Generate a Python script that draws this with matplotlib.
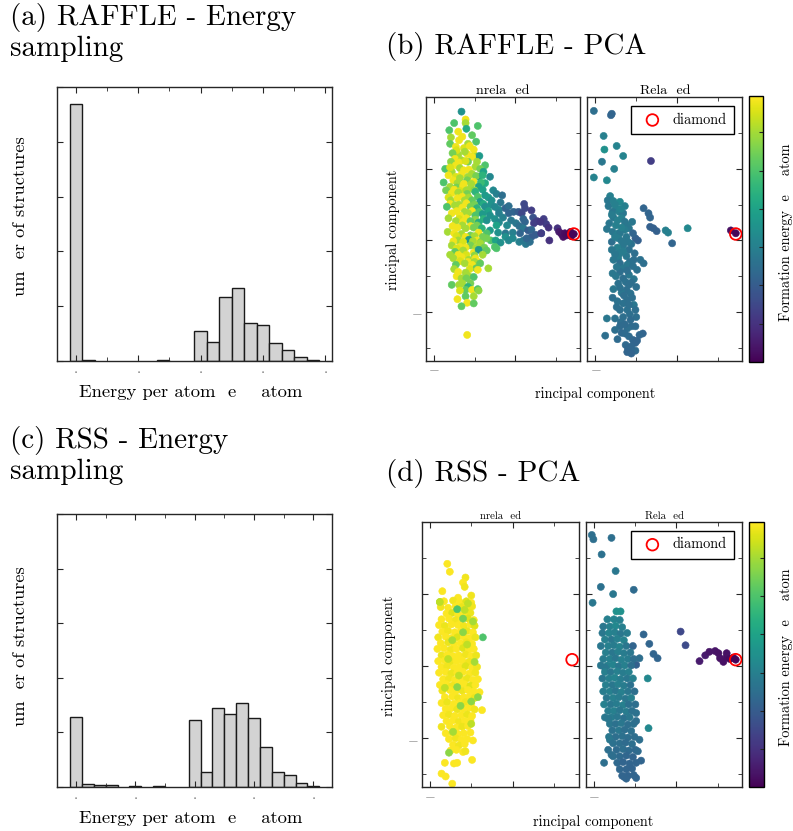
import matplotlib
matplotlib.use("Agg")
import matplotlib.pyplot as plt
import numpy as np
from matplotlib.colors import Normalize

plt.rcParams["font.family"] = "serif"
plt.rcParams["font.serif"] = ["cmr10"]
plt.rcParams["mathtext.fontset"] = "cm"
plt.rcParams["axes.formatter.use_mathtext"] = True

# ---------------------------------------------------------------- data
# energy histograms (bin centre in eV/atom, number of structures)
raffle_energy = [0.0, 0.1, 0.7, 1.0, 1.1, 1.2, 1.3, 1.4, 1.5, 1.6, 1.7, 1.8, 1.9]
raffle_counts = [469, 2, 1, 54, 35, 116, 134, 70, 66, 32, 20, 7, 2]

rss_energy = [0.0, 0.1, 0.2, 0.3, 0.5, 0.7, 1.0, 1.1, 1.2, 1.3, 1.4, 1.5, 1.6,
              1.7, 1.8, 1.9, 2.0]
rss_counts = [129, 6, 4, 4, 1, 2, 123, 27, 145, 134, 154, 127, 73, 27, 22, 8, 2]

# PCA points: (principal component 1, principal component 2, formation energy)
raffle_unrelaxed = [
    (-6.6, 18.0, 0.70), (-7.5, 16.4, 1.00), (-6.1, 16.9, 1.36), (-6.1, 16.4, 1.20), (-6.0, 15.6, 0.85),
    (-8.1, 15.4, 1.00), (-4.6, 16.0, 1.00), (-7.0, 15.2, 1.36), (-7.9, 14.4, 1.20), (-6.5, 14.5, 1.36),
    (-5.3, 14.7, 1.05), (-8.0, 13.5, 1.05), (-6.9, 14.0, 1.36), (-5.8, 13.5, 1.20), (-4.8, 13.8, 1.00),
    (-7.3, 13.1, 1.36), (-6.3, 12.9, 1.31), (-5.6, 13.2, 1.36), (-7.0, 12.0, 1.20), (-5.9, 12.1, 1.36),
    (-5.0, 11.9, 1.20), (-5.1, 12.7, 1.36), (-7.2, 12.6, 1.31), (-7.7, 12.2, 1.10), (-6.2, 12.4, 1.20),
    (-4.4, 11.8, 0.75), (-5.3, 11.7, 1.36), (-7.4, 11.4, 1.36), (-6.6, 11.2, 1.20), (-5.8, 11.0, 1.10),
    (-7.9, 11.0, 1.15), (-6.9, 10.9, 1.36), (-6.1, 11.1, 1.31), (-4.7, 11.0, 1.20), (-3.7, 10.5, 1.00),
    (-8.6, 10.0, 1.00), (-7.3, 10.5, 1.36), (-4.9, 10.3, 1.20), (-4.3, 10.0, 1.10), (-7.8, 9.6, 1.20),
    (-8.0, 10.2, 1.31), (-6.8, 10.1, 1.20), (-5.7, 9.9, 1.36), (-6.3, 9.8, 1.36), (-5.3, 9.3, 1.20),
    (-3.9, 9.6, 0.80), (-4.5, 8.9, 0.70), (-3.1, 8.9, 0.65), (-8.2, 9.1, 1.36), (-7.3, 8.9, 1.31),
    (-6.6, 9.2, 1.36), (-5.8, 8.9, 1.20), (-4.8, 9.0, 1.10), (-4.0, 9.1, 0.90), (-8.8, 8.1, 1.00),
    (-7.6, 8.4, 1.36), (-6.8, 8.7, 1.20), (-5.9, 8.4, 1.10), (-5.1, 8.2, 1.36), (-3.7, 8.0, 0.85),
    (-7.1, 8.0, 1.20), (-6.3, 7.9, 1.36), (-5.4, 7.9, 1.20), (-4.2, 8.1, 0.95), (-8.0, 7.5, 1.20),
    (-7.2, 7.4, 1.10), (-6.4, 7.6, 1.36), (-5.5, 7.3, 1.20), (-4.5, 7.5, 0.80), (-2.7, 7.0, 0.65),
    (-8.5, 7.0, 1.10), (-7.5, 7.1, 1.36), (-6.8, 6.9, 1.31), (-6.0, 7.0, 1.20), (-5.0, 7.0, 1.15),
    (-4.0, 7.1, 0.80), (-7.8, 6.6, 1.36), (-7.0, 6.7, 1.20), (-5.9, 6.5, 1.10), (-4.9, 6.8, 0.90),
    (-3.7, 6.3, 0.75), (-2.3, 6.5, 0.60), (-1.6, 6.3, 0.50), (-8.2, 6.0, 1.31), (-6.5, 6.1, 1.36),
    (-5.7, 6.0, 1.20), (-4.6, 6.1, 1.00), (-3.3, 6.0, 0.75), (-7.9, 5.6, 1.20), (-7.1, 5.9, 1.36),
    (-6.2, 5.6, 1.20), (-5.3, 5.6, 1.05), (-4.3, 5.4, 0.75), (-2.9, 5.6, 0.70), (-1.8, 5.3, 0.55),
    (-8.0, 5.1, 1.36), (-6.9, 5.0, 1.20), (-6.0, 5.2, 1.36), (-5.0, 5.0, 1.10), (-3.9, 5.1, 0.85),
    (-3.0, 5.0, 0.70), (-8.4, 4.7, 1.00), (-7.4, 4.9, 1.20), (-6.5, 4.6, 1.36), (-5.5, 4.7, 1.10),
    (-4.7, 4.5, 0.90), (-3.7, 4.7, 0.70), (-2.5, 4.7, 0.65), (-2.0, 4.3, 0.65), (-1.2, 4.5, 0.45),
    (-0.8, 4.8, 0.50), (-0.2, 4.0, 0.45), (1.1, 5.1, 0.30), (1.2, 4.5, 0.30), (-7.2, 4.1, 1.36),
    (-6.2, 4.0, 1.20), (-5.3, 4.1, 1.36), (-4.4, 4.0, 1.00), (-3.3, 4.1, 0.80), (-7.8, 3.8, 1.36),
    (-6.8, 3.5, 1.36), (-5.8, 3.8, 1.20), (-4.9, 3.5, 1.00), (-4.0, 3.7, 0.75), (-3.1, 3.5, 0.70),
    (-2.0, 3.8, 0.60), (-0.8, 3.8, 0.45), (0.4, 4.0, 0.40), (0.8, 3.8, 0.30), (2.0, 4.2, 0.25),
    (-8.2, 3.1, 1.20), (-6.9, 3.0, 1.31), (-6.0, 3.1, 1.36), (-4.9, 2.9, 1.15), (-3.9, 3.0, 0.90),
    (-2.5, 3.0, 0.70), (-1.5, 3.2, 0.60), (-0.5, 2.8, 0.55), (1.0, 3.0, 0.45), (2.2, 3.2, 0.35),
    (3.5, 3.0, 0.25), (3.8, 2.3, 0.25), (-7.3, 2.7, 1.20), (-6.4, 2.6, 1.36), (-5.5, 2.7, 1.05),
    (-4.5, 2.5, 0.85), (-3.5, 2.8, 0.70), (-2.0, 2.5, 0.65), (-1.0, 2.1, 0.65), (0.1, 2.4, 0.55),
    (0.5, 2.0, 0.50), (1.2, 2.6, 0.45), (2.3, 2.4, 0.25), (2.7, 2.7, 0.25), (3.1, 2.6, 0.22),
    (-7.7, 2.0, 1.36), (-6.5, 2.1, 1.20), (-5.5, 2.0, 1.36), (-4.7, 2.1, 1.10), (-7.1, 1.8, 1.36),
    (-6.1, 1.7, 1.20), (-5.1, 1.8, 1.10), (-4.1, 1.7, 0.90), (-3.1, 1.4, 0.75), (-2.3, 2.1, 0.80),
    (1.0, 1.7, 0.55), (1.6, 1.4, 0.40), (2.0, 1.5, 0.45), (4.1, 1.8, 0.20), (5.2, 1.7, 0.20),
    (-8.3, 1.2, 1.20), (-7.5, 1.0, 1.36), (-6.6, 0.9, 1.20), (-5.5, 0.7, 1.10), (-4.5, 1.1, 1.36),
    (-3.5, 1.0, 1.00), (-7.2, 0.6, 1.31), (-6.1, 0.5, 1.36), (-5.0, 0.6, 1.20), (-4.0, 0.5, 1.10),
    (-2.1, 1.1, 0.70), (-1.2, 1.0, 0.55), (-0.3, 1.1, 0.60), (0.6, 1.0, 0.45), (2.5, 0.8, 0.40),
    (2.0, 0.5, 0.40), (3.2, 1.0, 0.40), (4.2, 0.0, 0.20), (-7.0, 0.0, 1.20), (-5.7, 0.1, 0.75),
    (-4.7, 0.0, 1.36), (-7.6, -0.1, 1.36), (-6.4, -0.2, 1.31), (-5.2, -0.1, 1.20), (-4.2, -0.2, 1.10),
    (-3.0, 0.0, 1.00), (-3.5, 0.3, 1.10), (-2.4, 0.0, 0.80), (-1.2, 0.5, 0.70), (-0.3, 0.3, 0.65),
    (-0.8, 0.0, 0.65), (-1.8, -0.3, 0.70), (0.5, -0.2, 0.60), (1.0, 0.0, 0.55), (1.3, -0.5, 0.55),
    (1.8, -0.2, 0.50), (1.4, 0.3, 0.45), (-7.8, -0.7, 1.20), (-6.8, -0.9, 1.36), (-5.5, -0.7, 1.10),
    (-4.3, -0.4, 1.20), (-2.5, -0.9, 1.00), (-7.2, -1.1, 1.31), (-6.1, -1.0, 1.36), (-4.8, -1.0, 1.20),
    (-3.8, -1.0, 1.10), (-7.4, -1.6, 1.05), (-6.4, -1.4, 1.20), (-5.1, -1.7, 1.36), (-4.5, -1.3, 0.75),
    (-3.5, -1.4, 1.05), (-2.3, -1.1, 1.00), (-8.0, -2.0, 1.20), (-7.0, -2.0, 1.36), (-6.0, -2.0, 1.31),
    (-5.0, -2.1, 1.15), (-4.0, -2.0, 1.20), (-7.6, -2.5, 1.20), (-6.6, -2.3, 1.36), (-5.7, -2.7, 1.20),
    (-4.9, -2.5, 1.36), (-4.5, -3.0, 1.38), (-6.8, -2.9, 1.31), (-5.8, -3.0, 1.36), (-5.0, -3.0, 1.20),
    (-7.3, -3.4, 1.05), (-6.2, -3.2, 1.20), (-5.3, -3.4, 1.36), (-4.3, -3.2, 1.05), (-3.3, -3.9, 1.20),
    (-4.8, -3.9, 1.05), (-7.5, -4.0, 1.20), (-5.6, -4.0, 1.31), (-4.6, -4.1, 1.36), (-7.0, -4.4, 1.36),
    (-6.1, -4.5, 1.20), (-7.2, -5.0, 1.36), (-5.7, -5.0, 1.20), (-6.6, -5.3, 1.20), (-6.0, -5.3, 1.10),
    (-5.1, -5.1, 1.00), (-6.5, -6.0, 1.20), (-5.5, -6.0, 1.10), (-7.8, -6.2, 1.05), (-6.9, -6.2, 1.20),
    (-5.8, -6.5, 0.90), (-6.1, -6.9, 1.05), (-5.3, -6.9, 1.36), (-4.6, -6.8, 1.00), (-6.8, -7.0, 1.31),
    (-4.5, -7.0, 1.15), (-6.1, -7.8, 1.05), (-5.1, -7.8, 1.20), (-7.1, -8.2, 1.36), (-5.9, -8.7, 1.36),
    (-5.1, -8.8, 1.05), (-6.6, -9.2, 1.05), (-5.9, -13.2, 1.36),
    (3.2, 1.0, 0.25), (5.4, 1.2, 0.10), (5.7, 0.9, 0.08), (5.9, 0.5, 0.06), (6.1, 1.0, 0.05),
    (6.3, 0.7, 0.04), (6.6, 0.9, 0.03), (6.8, 1.2, 0.03), (6.9, 0.6, 0.03), (7.2, 0.9, 0.02),
]

raffle_relaxed = [
    (-10.2, 18.1, 0.50), (-8.0, 17.7, 0.45), (-8.1, 17.5, 0.45), (-9.0, 14.6, 0.60), (-7.4, 13.2, 0.62),
    (-8.9, 12.7, 0.70), (-6.6, 11.8, 0.62), (-3.2, 11.1, 0.25), (-9.2, 11.0, 0.55), (-7.7, 10.0, 0.60),
    (-10.2, 8.8, 0.62), (-8.6, 8.4, 0.65),
    (-8.2, 6.2, 0.60), (-8.5, 5.6, 0.55), (-7.8, 5.5, 0.60), (-7.0, 5.4, 0.65), (-8.4, 4.8, 0.55),
    (-6.4, 4.8, 0.60), (-7.5, 4.5, 0.60), (-7.9, 4.0, 0.55), (-7.1, 4.0, 0.60), (-6.6, 3.8, 0.55),
    (-4.1, 4.5, 0.45), (-3.5, 3.8, 0.45), (-3.3, 3.2, 0.45), (-7.8, 3.2, 0.55), (-6.8, 3.1, 0.60),
    (-5.5, 2.6, 0.55), (-8.3, 2.4, 0.55), (-7.5, 2.1, 0.60), (-6.1, 2.1, 0.58), (-5.9, 1.7, 0.55),
    (-6.4, 1.5, 0.58), (-3.3, 1.9, 0.42), (-2.9, 1.7, 0.42), (-2.5, 1.3, 0.42), (-1.4, 1.4, 0.60),
    (-1.1, 1.1, 0.60), (1.3, 1.7, 0.65), (-0.6, -0.4, 0.45),
    (-7.9, 1.2, 0.55), (-7.2, 1.0, 0.60), (-7.0, 1.0, 0.55), (-7.2, 0.3, 0.58), (-6.2, 0.5, 0.55),
    (-5.1, 0.3, 0.42), (-4.8, 0.0, 0.42), (-8.0, -0.2, 0.50), (-6.8, -0.1, 0.55), (-5.6, -0.5, 0.52),
    (-6.6, -0.7, 0.55), (-7.3, -1.0, 0.60), (-8.0, -1.3, 0.55), (-5.9, -1.3, 0.52), (-7.0, -1.8, 0.58),
    (-6.2, -2.2, 0.55), (-7.2, -2.5, 0.58), (-7.8, -2.7, 0.55), (-5.3, -2.7, 0.50), (-4.5, -2.7, 0.52),
    (-5.8, -3.0, 0.52), (-7.0, -3.2, 0.50), (-6.1, -3.4, 0.55), (-4.1, -3.2, 0.50), (-6.6, -3.9, 0.55),
    (-4.9, -4.1, 0.52), (-7.0, -4.4, 0.50), (-5.9, -4.8, 0.55), (-7.5, -5.0, 0.55), (-6.6, -5.3, 0.50),
    (-5.3, -5.4, 0.55), (-6.3, -5.8, 0.52), (-7.2, -6.0, 0.52), (-5.9, -6.2, 0.50), (-5.0, -6.5, 0.50),
    (-7.8, -6.8, 0.55), (-6.2, -6.9, 0.50), (-6.8, -7.3, 0.55), (-5.7, -7.4, 0.52), (-7.9, -8.0, 0.50),
    (-5.5, -8.0, 0.50), (-6.1, -8.3, 0.50), (-6.6, -8.8, 0.52), (-5.3, -9.0, 0.55), (-7.4, -9.3, 0.50),
    (-7.0, -9.7, 0.50), (-6.1, -9.7, 0.52), (-5.1, -9.7, 0.50), (-5.8, -10.3, 0.50), (-6.6, -10.7, 0.50),
    (-5.0, -10.7, 0.50), (-8.6, -10.9, 0.55), (-7.6, -10.9, 0.52), (-5.7, -11.1, 0.48), (-6.9, -11.4, 0.50),
    (-7.0, -12.0, 0.48), (-5.6, -12.0, 0.48), (-5.1, -12.0, 0.48), (-6.1, -12.3, 0.50), (-7.6, -12.5, 0.50),
    (-6.8, -12.9, 0.47), (-6.4, -13.0, 0.48), (-4.2, -13.0, 0.45), (-4.6, -13.2, 0.46), (-8.8, -13.3, 0.50),
    (-5.9, -13.4, 0.48), (-5.4, -13.9, 0.46), (-4.9, -14.0, 0.45), (-5.1, -14.3, 0.45), (-6.3, -14.6, 0.47),
    (-6.0, -15.2, 0.46), (-5.1, -15.4, 0.48), (-6.1, -15.6, 0.45), (-5.6, -15.8, 0.45),
    (-7.6, 5.0, 0.60), (-6.9, 4.4, 0.62), (-8.0, 3.6, 0.58), (-7.3, 2.8, 0.60), (-6.4, 2.6, 0.55),
    (-8.6, 1.6, 0.55), (-6.8, 1.8, 0.60), (-5.4, 1.0, 0.45), (-7.6, 0.5, 0.58), (-6.0, -0.2, 0.55),
    (-7.6, -1.9, 0.55), (-6.6, -1.5, 0.58), (-5.2, -1.8, 0.50), (-7.4, -3.7, 0.55), (-5.4, -3.6, 0.52),
    (-6.1, -4.2, 0.50), (-7.9, -4.6, 0.55), (-5.6, -5.9, 0.50), (-7.0, -6.6, 0.52), (-6.5, -7.7, 0.50),
    (-7.3, -8.5, 0.52), (-5.9, -9.0, 0.50), (-6.4, -11.7, 0.48), (-7.3, -13.8, 0.48), (-5.6, -14.8, 0.46),
    (6.6, 1.4, 0.05), (7.2, 1.0, 0.02),
]

rss_unrelaxed = [
    (-7.9, 14.2, 1.38), (-7.6, 13.1, 1.38), (-5.7, 12.3, 1.36), (-6.0, 11.6, 1.38), (-5.8, 11.0, 1.36),
    (-8.5, 10.4, 1.38), (-5.0, 9.8, 1.36), (-8.8, 8.9, 1.20), (-6.6, 9.5, 1.38), (-3.6, 4.0, 1.00),
    (-3.7, -6.1, 1.38), (-4.0, -3.6, 1.38), (-4.8, -10.3, 1.38), (-4.9, -13.0, 1.38), (-8.2, -13.4, 1.38),
    (-7.1, -13.5, 1.38), (-6.7, -13.4, 1.38), (-8.6, -14.9, 1.38), (-8.1, -15.3, 1.38), (-7.3, -16.3, 1.38),
    (-6.0, -11.9, 1.38), (-5.7, -11.8, 1.36),
    (-8.3, 9.0, 1.38), (-7.2, 9.1, 1.36), (-6.4, 8.9, 1.38), (-5.6, 9.0, 1.32), (-5.0, 8.8, 1.38),
    (-8.7, 8.2, 1.36), (-7.8, 8.1, 1.38), (-6.9, 8.3, 1.38), (-6.1, 8.2, 1.35), (-5.3, 8.1, 1.38), (-4.9, 8.3, 1.36),
    (-8.0, 7.3, 1.38), (-7.3, 7.4, 1.32), (-6.6, 7.2, 1.38), (-5.8, 7.3, 1.38), (-5.1, 7.4, 1.35),
    (-8.6, 6.5, 1.38), (-7.7, 6.6, 1.38), (-6.9, 6.4, 1.36), (-6.2, 6.5, 1.38), (-5.4, 6.6, 1.32), (-4.7, 6.4, 1.38),
    (-8.9, 5.7, 1.38), (-8.2, 5.6, 1.35), (-7.4, 5.8, 1.38), (-6.6, 5.7, 1.38), (-5.9, 5.6, 1.36), (-5.1, 5.8, 1.38),
    (-4.6, 5.6, 1.32),
    (-8.5, 4.8, 1.38), (-7.8, 4.9, 1.36), (-7.0, 4.7, 1.38), (-6.3, 4.8, 1.38), (-5.5, 4.9, 1.35), (-4.8, 4.7, 1.38),
    (-9.0, 4.0, 1.36), (-8.1, 4.1, 1.38), (-7.4, 3.9, 1.38), (-6.7, 4.0, 1.32), (-5.9, 4.1, 1.38), (-5.2, 3.9, 1.38),
    (-4.5, 4.0, 1.35),
    (-8.7, 3.2, 1.38), (-7.8, 3.3, 1.35), (-7.1, 3.1, 1.38), (-6.3, 3.2, 1.38), (-5.6, 3.3, 1.36), (-4.9, 3.1, 1.38),
    (-9.1, 2.4, 1.38), (-8.3, 2.5, 1.38), (-7.5, 2.3, 1.36), (-6.8, 2.4, 1.38), (-6.0, 2.5, 1.32), (-5.3, 2.3, 1.38),
    (-4.7, 2.4, 1.38),
    (-8.6, 1.5, 1.35), (-7.9, 1.6, 1.38), (-7.2, 1.4, 1.38), (-6.5, 1.5, 1.38), (-5.7, 1.6, 1.36), (-5.0, 1.4, 1.38),
    (-4.4, 1.5, 1.35),
    (-9.0, 0.7, 1.38), (-8.2, 0.8, 1.38), (-7.5, 0.6, 1.35), (-6.8, 0.7, 1.38), (-6.1, 0.8, 1.38), (-5.3, 0.6, 1.36),
    (-8.6, -0.1, 1.38), (-7.9, 0.0, 1.36), (-7.1, -0.2, 1.38), (-6.4, -0.1, 1.38), (-5.7, 0.0, 1.32), (-4.9, -0.2, 1.38),
    (-4.3, -0.1, 1.36),
    (-8.9, -0.9, 1.38), (-8.1, -0.8, 1.38), (-7.4, -1.0, 1.35), (-6.7, -0.9, 1.38), (-6.0, -0.8, 1.38), (-5.2, -1.0, 1.38),
    (-4.5, -0.9, 1.36),
    (-8.4, -1.8, 1.38), (-7.7, -1.7, 1.36), (-7.0, -1.9, 1.38), (-6.2, -1.8, 1.38), (-5.5, -1.7, 1.35), (-4.8, -1.9, 1.38),
    (-4.2, -1.8, 1.38),
    (-8.8, -2.6, 1.38), (-8.0, -2.5, 1.38), (-7.3, -2.7, 1.36), (-6.5, -2.6, 1.38), (-5.8, -2.5, 1.38), (-5.1, -2.7, 1.32),
    (-4.5, -2.6, 1.38),
    (-8.5, -3.4, 1.36), (-7.6, -3.3, 1.38), (-6.9, -3.5, 1.38), (-6.1, -3.4, 1.35), (-5.4, -3.3, 1.38), (-4.7, -3.5, 1.38),
    (-8.2, -4.3, 1.38), (-7.3, -4.2, 1.38), (-6.6, -4.4, 1.36), (-5.9, -4.3, 1.38), (-5.2, -4.2, 1.38), (-4.6, -4.4, 1.35),
    (-8.6, -5.1, 1.38), (-7.9, -5.0, 1.35), (-7.1, -5.2, 1.38), (-6.4, -5.1, 1.38), (-5.7, -5.0, 1.36), (-5.0, -5.2, 1.38),
    (-8.1, -5.9, 1.38), (-7.4, -5.8, 1.38), (-6.7, -6.0, 1.35), (-6.0, -5.9, 1.38), (-5.3, -5.8, 1.38), (-4.6, -6.0, 1.36),
    (-8.4, -6.8, 1.38), (-7.7, -6.7, 1.36), (-7.0, -6.9, 1.38), (-6.2, -6.8, 1.38), (-5.5, -6.7, 1.35), (-4.9, -6.9, 1.38),
    (-8.0, -7.6, 1.38), (-7.2, -7.5, 1.38), (-6.5, -7.7, 1.36), (-5.8, -7.6, 1.38), (-5.1, -7.5, 1.38),
    (-8.6, -8.4, 1.36), (-7.6, -8.3, 1.38), (-6.8, -8.5, 1.38), (-6.1, -8.4, 1.35), (-5.4, -8.3, 1.38),
    (-8.1, -9.3, 1.38), (-7.3, -9.2, 1.36), (-6.6, -9.4, 1.38), (-5.9, -9.3, 1.38), (-5.1, -9.2, 1.38),
    (-7.7, -10.1, 1.38), (-6.9, -10.0, 1.36), (-6.2, -10.2, 1.38), (-5.5, -10.1, 1.38),
    (-7.2, -10.9, 1.38), (-6.5, -11.0, 1.36), (-5.8, -10.8, 1.38), (-7.5, -11.7, 1.38), (-6.8, -11.6, 1.38),
    (-6.7, 7.9, 1.00), (-6.0, 6.6, 1.10), (-6.0, 4.7, 1.15), (-6.7, -2.9, 1.15), (-6.3, -5.5, 1.15),
    (-7.2, -9.1, 1.20), (-5.0, -4.9, 1.15), (-4.6, 0.6, 1.20), (-7.3, 3.6, 1.20), (-4.8, 6.2, 1.20),
    (-5.4, 8.7, 1.25), (-5.8, 7.8, 1.25), (-7.7, -12.0, 1.15), (-4.2, -4.3, 1.15), (-8.8, 8.9, 1.25),
    (-5.0, -8.0, 1.25), (-7.8, 1.0, 1.25), (-6.5, -1.3, 1.25), (-5.5, 3.0, 1.25), (-8.2, -3.0, 1.25),
]

rss_relaxed = [
    (-10.3, 18.2, 0.50), (-10.1, 17.6, 0.50), (-7.9, 17.8, 0.50), (-9.1, 15.5, 0.52), (-7.4, 13.2, 0.55),
    (-9.2, 11.0, 0.52), (-7.7, 10.0, 0.55), (-5.2, 10.6, 0.48), (-10.2, 8.8, 0.55), (-7.3, 7.6, 0.70),
    (-6.8, 7.6, 0.70), (0.5, 4.8, 0.30), (1.1, 2.9, 0.32), (-4.0, 4.4, 0.45), (-3.3, 3.1, 0.45),
    (-2.8, 1.7, 0.45), (-2.3, 1.1, 0.45), (-3.5, -1.7, 0.65), (-3.4, -8.6, 0.65), (-4.5, 1.1, 0.50),
    (-4.9, 0.2, 0.42),
    (-8.4, 6.5, 0.60), (-7.6, 6.5, 0.62), (-6.9, 6.4, 0.60),
    (-8.9, 5.5, 0.55), (-8.1, 5.5, 0.60), (-7.4, 5.6, 0.65), (-6.6, 5.4, 0.60),
    (-9.0, 4.6, 0.55), (-8.2, 4.6, 0.62), (-7.5, 4.7, 0.60), (-6.8, 4.5, 0.55), (-6.0, 4.6, 0.58),
    (-8.7, 3.7, 0.60), (-7.9, 3.7, 0.55), (-7.2, 3.8, 0.60), (-6.4, 3.6, 0.62),
    (-9.2, 2.8, 0.55), (-8.3, 2.8, 0.60), (-7.6, 2.9, 0.58), (-6.9, 2.7, 0.62), (-6.1, 2.8, 0.55), (-5.3, 2.8, 0.45),
    (-8.6, 1.9, 0.60), (-7.8, 1.9, 0.55), (-7.1, 2.0, 0.60), (-6.4, 1.8, 0.58), (-5.6, 1.9, 0.55),
    (-8.9, 1.0, 0.58), (-8.1, 1.0, 0.60), (-7.4, 1.1, 0.55), (-6.7, 0.9, 0.60), (-5.9, 1.0, 0.58), (-5.2, 1.0, 0.50),
    (-9.2, 0.1, 0.55), (-8.4, 0.1, 0.60), (-7.7, 0.2, 0.62), (-7.0, 0.0, 0.55), (-6.3, 0.1, 0.60), (-5.5, 0.1, 0.50),
    (-8.7, -0.2, 0.55), (-8.7, -0.8, 0.60), (-8.0, -0.8, 0.55), (-7.2, -0.7, 0.60), (-6.5, -0.9, 0.58), (-5.8, -0.8, 0.60),
    (-9.0, -1.7, 0.55), (-8.2, -1.7, 0.60), (-7.5, -1.6, 0.62), (-6.8, -1.8, 0.58), (-6.0, -1.7, 0.55), (-5.3, -1.7, 0.60),
    (-8.6, -2.6, 0.60), (-7.8, -2.6, 0.55), (-7.1, -2.5, 0.60), (-6.4, -2.7, 0.58), (-5.6, -2.6, 0.52),
    (-8.9, -3.5, 0.58), (-8.1, -3.5, 0.60), (-7.4, -3.4, 0.55), (-6.7, -3.6, 0.60), (-5.9, -3.5, 0.55), (-5.1, -3.5, 0.50),
    (-8.5, -4.4, 0.55), (-7.7, -4.4, 0.60), (-7.0, -4.3, 0.58), (-6.2, -4.5, 0.55), (-5.5, -4.4, 0.60),
    (-8.8, -5.3, 0.60), (-8.0, -5.3, 0.55), (-7.3, -5.2, 0.58), (-6.5, -5.4, 0.60), (-5.8, -5.3, 0.52), (-5.0, -5.3, 0.50),
    (-8.3, -6.2, 0.58), (-7.6, -6.2, 0.60), (-6.9, -6.1, 0.55), (-6.1, -6.3, 0.58), (-5.4, -6.2, 0.52), (-4.9, -6.5, 0.52),
    (-8.7, -7.1, 0.55), (-7.9, -7.1, 0.58), (-7.2, -7.0, 0.55), (-6.4, -7.2, 0.52), (-5.7, -7.1, 0.55), (-8.3, -7.3, 0.55),
    (-8.1, -8.0, 0.55), (-7.4, -8.0, 0.52), (-6.7, -7.9, 0.55), (-5.9, -8.1, 0.50), (-5.2, -8.0, 0.52), (-4.9, -7.6, 0.50),
    (-7.8, -8.9, 0.52), (-7.0, -8.9, 0.55), (-6.3, -8.8, 0.50), (-5.5, -9.0, 0.52),
    (-8.2, -9.8, 0.55), (-7.4, -9.8, 0.50), (-6.6, -9.7, 0.52), (-5.9, -9.9, 0.50), (-5.1, -9.8, 0.50),
    (-8.1, -10.2, 0.55), (-4.5, -10.2, 0.50),
    (-7.7, -10.7, 0.52), (-6.9, -10.7, 0.50), (-6.2, -10.6, 0.48), (-5.4, -10.8, 0.50),
    (-8.3, -11.6, 0.50), (-7.3, -11.6, 0.48), (-6.5, -11.5, 0.50), (-5.8, -11.7, 0.48), (-5.0, -11.6, 0.47),
    (-4.7, -11.8, 0.48), (-7.9, -12.3, 0.50),
    (-7.7, -12.5, 0.50), (-6.9, -12.5, 0.48), (-6.1, -12.4, 0.46), (-5.3, -12.6, 0.45),
    (-8.8, -13.4, 0.50), (-7.2, -13.4, 0.47), (-6.5, -13.3, 0.45), (-5.7, -13.5, 0.45), (-4.9, -13.4, 0.45),
    (-4.3, -13.1, 0.45),
    (-6.9, -14.3, 0.46), (-6.1, -14.3, 0.45), (-5.4, -14.2, 0.44),
    (-6.6, -15.2, 0.45), (-5.9, -15.2, 0.44), (-5.2, -15.1, 0.45), (-6.3, -15.4, 0.45), (-6.1, -15.6, 0.45),
    (-4.9, -15.5, 0.45),
    (2.8, 0.7, 0.10), (3.5, 1.5, 0.10), (4.0, 2.0, 0.08), (4.7, 2.1, 0.08), (5.1, 1.8, 0.07),
    (5.3, 1.1, 0.07), (5.7, 0.6, 0.06), (6.1, 1.3, 0.05), (6.1, 1.8, 0.06), (6.5, 1.0, 0.04),
    (6.9, 1.2, 0.03), (7.2, 0.9, 0.02),
]

diamond_pc = (7.2, 0.9)

energy_min, energy_max = 0.0, 1.39
cbar_ticks = [0.2, 0.4, 0.6, 0.8, 1.0, 1.2]

# ---------------------------------------------------------------- layout helpers
W, H = 793, 831


def box(x0, y0, x1, y1):
    # pixel box (from top-left) -> figure fraction rect
    return [x0 / W, 1 - y1 / H, (x1 - x0) / W, (y1 - y0) / H]


def ftext(x, y, s, **kw):
    fig.text(x / W, 1 - y / H, s, **kw)


fig = plt.figure(figsize=(W / 100, H / 100), dpi=100)
norm = Normalize(energy_min, energy_max)
SPINE = "0.15"
TICKLAB = "0.45"
NEG = r"$-\quad$"


def style_hist(ax, xlim):
    ax.set_xlim(*xlim)
    ax.set_ylim(0, 500)
    ax.set_xticks([0.0, 0.5, 1.0, 1.5, 2.0])
    ax.set_xticklabels(["."] * 5)
    ax.set_xticks([0.25, 0.75, 1.25, 1.75], minor=True)
    ax.set_yticks([0, 100, 200, 300, 400, 500])
    ax.set_yticklabels([""] * 6)
    ax.tick_params(which="both", direction="in", top=True, right=True,
                   colors=SPINE, labelcolor=TICKLAB, labelsize=11, pad=1)
    ax.tick_params(which="major", length=4)
    ax.tick_params(which="minor", length=3)
    for s in ax.spines.values():
        s.set_color(SPINE)
        s.set_linewidth(1.0)


def style_pca(ax, left):
    ax.set_xlim(-11, 8)
    ax.set_ylim(-16.8, 20)
    ax.set_xticks([-10, 0])
    ax.set_xticklabels([NEG, ""])
    ax.set_xticks([-5, 5], minor=True)
    ax.set_yticks([-10, 0, 10])
    ax.set_yticklabels([NEG, "", ""] if left else ["", "", ""])
    ax.set_yticks([-15, -5, 5, 15], minor=True)
    ax.tick_params(which="both", direction="in", top=True, right=True,
                   colors=SPINE, labelcolor=TICKLAB, labelsize=10, pad=2)
    ax.tick_params(which="major", length=4)
    ax.tick_params(which="minor", length=3)
    for s in ax.spines.values():
        s.set_color(SPINE)
        s.set_linewidth(1.0)


def scatter(ax, pts):
    p = np.array(pts)
    return ax.scatter(p[:, 0], p[:, 1], c=p[:, 2], cmap="viridis", norm=norm,
                      s=26, linewidths=0.4, edgecolors="face")


def diamond(ax, label=None):
    ax.scatter([diamond_pc[0]], [diamond_pc[1]], s=70, facecolors="none",
               edgecolors="red", linewidths=1.3, zorder=5, label=label)


# ---------------------------------------------------------------- (a) / (c) histograms
for rect, energy, counts, xlim, ylab_y, xlab_y, title, title_y in [
    (box(57, 87, 332, 361), raffle_energy, raffle_counts, (-0.152, 2.053), 216, 392,
     "(a) RAFFLE - Energy\nsampling", 3),
    (box(57, 514, 332, 787), rss_energy, rss_counts, (-0.16, 2.157), 646, 818,
     "(c) RSS - Energy\nsampling", 426),
]:
    ax = fig.add_axes(rect)
    ax.bar(energy, counts, width=0.1, color="#d3d3d3", edgecolor="0.1", linewidth=1.0)
    style_hist(ax, xlim)
    ftext(20, ylab_y, "um  er of structures", rotation=90, ha="center", va="center",
          fontsize=13.2)
    ftext(191, xlab_y, "Energy per atom  e    atom", ha="center", va="center", fontsize=13.4)
    ftext(10, title_y, title, ha="left", va="top", fontsize=21, linespacing=1.2)

# ---------------------------------------------------------------- (b) / (d) PCA
for (l_box, r_box, c_box, unrel, rel, sub_fs, ylab_pos, xlab_pos, cb_y,
     title, title_y) in [
    (box(425.7, 97.3, 580.3, 360.7), box(587.3, 97.3, 742.3, 360.7), box(749.3, 96, 763.3, 362),
     raffle_unrelaxed, raffle_relaxed, 10.1, (393, 230), (595, 394), 232,
     "(b) RAFFLE - PCA", 32),
    (box(421.7, 522, 578.7, 787.3), box(586, 522, 742.3, 787.3), box(749.3, 522, 764, 787),
     rss_unrelaxed, rss_relaxed, 7.8, (389, 656), (593, 822), 657,
     "(d) RSS - PCA", 459),
]:
    axl = fig.add_axes(l_box)
    axr = fig.add_axes(r_box)
    sc = scatter(axl, unrel)
    scatter(axr, rel)
    diamond(axl)
    diamond(axr, label="diamond")
    style_pca(axl, True)
    style_pca(axr, False)
    axr.legend(loc="upper right", fontsize=10.3, frameon=True, fancybox=False,
               edgecolor="black", framealpha=1, scatterpoints=1, handletextpad=0.4,
               borderpad=0.5, borderaxespad=0.6)
    axl.set_title("nrela  ed", fontsize=sub_fs, pad=2)
    axr.set_title("Rela  ed", fontsize=sub_fs, pad=2)

    cax = fig.add_axes(c_box)
    cb = fig.colorbar(sc, cax=cax)
    cb.set_ticks(cbar_ticks)
    cb.set_ticklabels([""] * len(cbar_ticks))
    cax.tick_params(direction="in", length=3, colors=SPINE)
    cb.outline.set_edgecolor("black")
    cb.outline.set_linewidth(1.0)

    ftext(ylab_pos[0], ylab_pos[1], "rincipal component", rotation=90, ha="center",
          va="center", fontsize=10.4)
    ftext(xlab_pos[0], xlab_pos[1], "rincipal component", ha="center", va="center",
          fontsize=10.4)
    ftext(786, cb_y, "Formation energy  e    atom", rotation=90, ha="center",
          va="center", fontsize=10.3)
    ftext(386, title_y, title, ha="left", va="top", fontsize=21)

fig.savefig("out.png", dpi=100)
